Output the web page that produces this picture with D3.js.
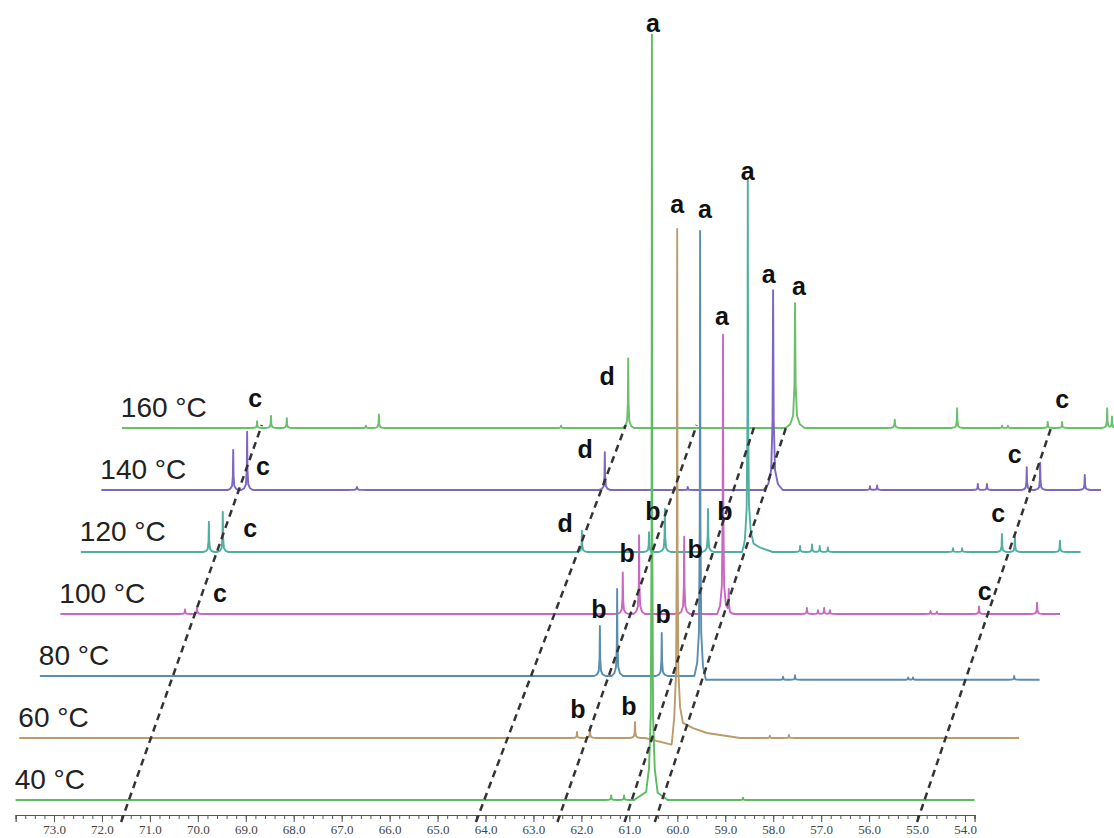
<!DOCTYPE html>
<html>
<head>
<meta charset="utf-8">
<script src="https://cdn.jsdelivr.net/npm/d3@7"></script>
<style>
  html, body { margin: 0; padding: 0; background: #fff; }
  svg { display: block; }
</style>
</head>
<body>
<div id="chart"></div>
<script>
// temperatures of the stacked 13C spectra
var temps = [40, 60, 80, 100, 120, 140, 160];
var ppmStart = [73.8, 74.15, 74.15, 74.15, 74.15, 74.15, 74.15];
var ppmEnd = [53.8, 53.3, 53.3, 53.3, 53.3, 53.3, 53.3];

// peaks: [ppm, intensity (tallest = 100), half width left, half width right]
var peaks40 = [[60.53, 100, 0.12, 0.12], [61.38, 0.6], [61.11, 0.6], [58.63, 0.3]];
var peaks60 = [[62.52, 0.8], [62.25, 1.45], [61.31, 2.1], [60.43, 65], [58.5, 0.3], [58.1, 0.4]];
var peaks80 = [[62.47, 6.6], [62.11, 11.5], [61.18, 5.7], [60.38, 59], [58.65, 0.4], [58.4, 0.6],
  [56.04, 0.3], [55.94, 0.3], [53.83, 0.5]];
var peaks100 = [[71.55, 0.6], [71.3, 1.0], [62.42, 5.5], [62.08, 10.4], [61.14, 10.2], [60.33, 36.9],
  [60.21, 3.3], [58.58, 0.8], [58.35, 0.5], [58.22, 0.8], [58.1, 0.5], [56.0, 0.4], [55.87, 0.3],
  [54.99, 1.0], [53.78, 1.5]];
var peaks120 = [[71.48, 4.0], [71.19, 5.3], [63.7, 2.8], [62.3, 2.6], [61.97, 5.7], [61.07, 5.7],
  [60.24, 48.2], [59.15, 0.8], [58.9, 1.0], [58.74, 0.8], [58.57, 0.6], [55.96, 0.5], [55.77, 0.5],
  [54.94, 2.4], [54.67, 2.1], [53.73, 1.5]];
var peaks140 = [[71.4, 5.3], [71.11, 7.7], [68.82, 0.4, 0.2, 0.2], [63.65, 5.0], [62.19, 0.4], [61.92, 0.4],
  [60.14, 26.4, 0.2, 0.2], [58.12, 0.5], [57.97, 0.6], [55.87, 0.8], [55.68, 0.8], [54.85, 3.0],
  [54.57, 3.6], [53.64, 2.0]];
var peaks160 = [[71.33, 0.9], [71.04, 1.6], [70.71, 1.3], [69.06, 0.3], [68.79, 1.8], [64.99, 0.3],
  [63.59, 9.2], [60.11, 16.5, 0.2, 0.2], [58.03, 1.1, 0.15, 0.15], [56.73, 2.6], [55.79, 0.3],
  [55.67, 0.3], [54.84, 0.8], [54.54, 0.8], [53.6, 2.6], [53.5, 1.5]];

// baseline distortions (foot / tail of the big peak): [ppm, intensity]
var baseline40 = [[60.9, 0], [60.62, 1.2], [60.42, 1.0], [60.2, 0]];
var baseline60 = [[61.1, 0], [60.54, -0.9], [60.45, 2.3], [60.31, 2.0], [60.1, 1.3], [59.81, 0.66], [59.12, 0]];
var baseline80 = [[60.42, 0], [60.32, -0.5], [53.3, -0.5]];
var baseline120 = [[60.32, 0], [60.22, 1.5], [59.99, 0.6], [59.72, 0]];

// axis ticks
var majorTicks = d3.range(54, 73.5, 1);
var minorTicks = d3.range(0, 101).map(function(i){ return 53.8 + i * 0.2; });

// dashed guide lines: ppm where they meet the axis, ppm where they end on the 160 trace
var dashBottom = [71.6, 64.2, 62.5, 61.1, 60.47, 55.0];
var dashTop = [71.23, 63.64, 62.16, 60.95, 60.28, 54.75];

// peak letters
var annText = ["a", "a", "a", "a", "a", "a", "a",
  "b", "b", "b", "b", "b", "b", "b", "b",
  "d", "d", "d",
  "c", "c", "c", "c", "c", "c", "c", "c"];
var annTemp = [40, 60, 80, 100, 120, 140, 160,
  120, 120, 100, 100, 80, 80, 60, 60,
  160, 140, 120,
  160, 140, 120, 100, 160, 140, 120, 100];
var annPpm = [60.51, 60.43, 60.28, 60.35, 60.24, 60.23, 60.03,
  62.22, 60.72, 62.33, 60.91, 62.49, 61.15, 62.5, 61.44,
  64.03, 64.06, 64.05,
  71.37, 70.78, 70.62, 70.82, 54.54, 55.1, 55.02, 54.87];
var annInt = [101.5, 69.4, 60.5, 38.2, 49.1, 27.3, 17.6,
  4.2, 4.2, 6.9, 7.4, 7.7, 7.0, 2.6, 3.0,
  5.7, 4.2, 2.6,
  2.8, 2.0, 2.0, 1.6, 2.6, 3.6, 4.0, 1.8];

var peakSets = [peaks40, peaks60, peaks80, peaks100, peaks120, peaks140, peaks160];
var baseSets = [baseline40, baseline60, baseline80, [], baseline120, [], []];
var colors = ["#5dbb60", "#bb9b6c", "#5a8db0", "#c968c1", "#4fb0a2", "#7d66c4", "#6abf6a"];

var width = 1114, height = 838, axisY = 815;

var svg = d3.select("#chart").append("svg")
  .attr("width", width).attr("height", height);
svg.append("rect").attr("width", width).attr("height", height).attr("fill", "#ffffff");

var x = d3.scaleLinear().domain([73, 54]).range([54, 965]);
var baseY = d3.scaleLinear().domain([40, 160]).range([800, 428]);
var shiftX = d3.scaleLinear().domain([40, 160]).range([0, 123]);
var hgt = d3.scaleLinear().domain([0, 100]).range([0, 757]);

// line shape of a single peak, piecewise
var shapeU = [0, 0.06, 0.2, 0.5, 1];
var shapeH = [1, 0.35, 0.1, 0.03, 0];
function shapeAt(u) {
  if (u >= 1) return 0;
  for (var i = 1; i < shapeU.length; i++) {
    if (u <= shapeU[i]) {
      var t = (u - shapeU[i-1]) / (shapeU[i] - shapeU[i-1]);
      return shapeH[i-1] + t * (shapeH[i] - shapeH[i-1]);
    }
  }
  return 0;
}
function baseAt(base, p) {
  if (!base.length) return 0;
  if (p >= base[0][0]) return base[0][1];
  if (p <= base[base.length-1][0]) return base[base.length-1][1];
  for (var i = 1; i < base.length; i++) {
    if (p >= base[i][0]) {
      var t = (base[i-1][0] - p) / (base[i-1][0] - base[i][0]);
      return base[i-1][1] + t * (base[i][1] - base[i-1][1]);
    }
  }
  return 0;
}

var buildTrace = function(idx) {
  var pks = peakSets[idx], base = baseSets[idx];
  var p0 = ppmStart[idx], p1 = ppmEnd[idx];
  var pts = [p0, p1];
  pks.forEach(function(pk) {
    var wl = pk[2] || 0.12, wr = pk[3] || 0.12;
    shapeU.forEach(function(u){ pts.push(pk[0] + u * wl); pts.push(pk[0] - u * wr); });
  });
  base.forEach(function(b){ pts.push(b[0]); });
  pts = pts.filter(function(p){ return p <= p0 && p >= p1; });
  pts.sort(function(a, b){ return b - a; });
  return pts.map(function(p) {
    var v = baseAt(base, p);
    pks.forEach(function(pk) {
      var w = p >= pk[0] ? (pk[2] || 0.12) : (pk[3] || 0.12);
      v += pk[1] * shapeAt(Math.abs(p - pk[0]) / w);
    });
    return {ppm: p, v: v};
  });
};

// axis
var axisScale = d3.scaleLinear().domain([73.8, 53.8]).range([x(73.8), x(53.8)]);
var minorAxis = svg.append("g").attr("transform", "translate(0," + axisY + ")")
  .call(d3.axisBottom(axisScale).tickValues(minorTicks).tickSize(4).tickFormat(""));
var majorAxis = svg.append("g").attr("transform", "translate(0," + axisY + ")")
  .call(d3.axisBottom(axisScale).tickValues(majorTicks).tickSize(7).tickPadding(3)
    .tickFormat(d3.format(".1f")));
[minorAxis, majorAxis].forEach(function(g) {
  g.select(".domain").attr("stroke", "#555").attr("stroke-width", 1.2);
  g.selectAll(".tick line").attr("stroke", "#555").attr("stroke-width", 1);
});
majorAxis.selectAll(".tick text")
  .attr("font-family", "'Liberation Serif', 'DejaVu Serif', serif")
  .attr("font-size", 13).attr("fill", "#444");

// spectra, back to front
var line = d3.line();
for (var k = temps.length - 1; k >= 0; k--) {
  var t = temps[k];
  var data = buildTrace(k);
  line.x(function(d){ return x(d.ppm) + shiftX(t); })
      .y(function(d){ return baseY(t) - hgt(d.v); });
  svg.append("path")
    .attr("d", line(data))
    .attr("fill", "none")
    .attr("stroke", colors[k])
    .attr("stroke-width", 1.9)
    .attr("stroke-linejoin", "round");

  svg.append("text")
    .attr("x", x(ppmStart[k]) + shiftX(t) - 1)
    .attr("y", baseY(t) - 11)
    .attr("font-family", "'Liberation Sans', Arial, sans-serif")
    .attr("font-size", 28)
    .attr("fill", "#222")
    .text(t + " °C");
}

// dashed guides
svg.selectAll("line.guide")
  .data(dashBottom)
  .enter().append("line")
  .attr("class", "guide")
  .attr("x1", function(d){ return x(d); })
  .attr("y1", axisY + 7)
  .attr("x2", function(d, i){ return x(dashTop[i]) + shiftX(160); })
  .attr("y2", baseY(160) - 3)
  .attr("stroke", "#333")
  .attr("stroke-width", 2.5)
  .attr("stroke-dasharray", "7,5");

// letters
svg.selectAll("text.ann")
  .data(annText)
  .enter().append("text")
  .attr("class", "ann")
  .attr("x", function(d, i){ return x(annPpm[i]) + shiftX(annTemp[i]); })
  .attr("y", function(d, i){ return baseY(annTemp[i]) - hgt(annInt[i]); })
  .attr("text-anchor", "middle")
  .attr("font-family", "'Liberation Sans', Arial, sans-serif")
  .attr("font-weight", "bold")
  .attr("font-size", 25)
  .attr("fill", "#111")
  .text(function(d){ return d; });
</script>
</body>
</html>
